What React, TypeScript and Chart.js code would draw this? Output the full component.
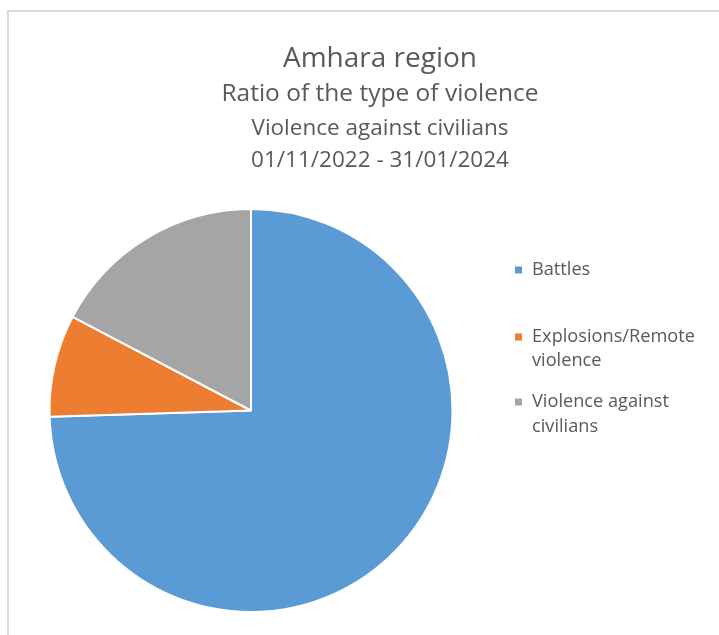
import React, { useEffect, useRef } from "react";
import { Chart, registerables } from "chart.js";

Chart.register(...registerables);

const titleLines = [
  "Amhara region",
  "Ratio of the type of violence",
  "Violence against civilians",
  "01/11/2022 - 31/01/2024",
];
const categories = ["Battles", "Explosions/Remote violence", "Violence against civilians"];
const legendLines = [["Battles"], ["Explosions/Remote", "violence"], ["Violence against", "civilians"]];
const shares = [74.5, 8.2, 17.3];
const colors = ["#5B9BD5", "#ED7D31", "#A5A5A5"];

const FONT = "'Open Sans', 'Noto Sans', sans-serif";
const TEXT = "#595959";

const decor = {
  id: "decor",
  afterDraw(chart: any) {
    const ctx = chart.ctx;
    ctx.save();
    ctx.fillStyle = TEXT;
    ctx.textAlign = "center";
    ctx.textBaseline = "alphabetic";
    const titleSpec = [
      { size: 28, y: 67 },
      { size: 24.5, y: 101 },
      { size: 22.5, y: 135 },
      { size: 22.5, y: 167 },
    ];
    titleLines.forEach((t, i) => {
      ctx.font = `${titleSpec[i].size}px ${FONT}`;
      ctx.fillText(t, 380, titleSpec[i].y);
    });
    // legend
    const itemY = [[270], [337, 361], [402, 427]];
    ctx.textAlign = "left";
    ctx.textBaseline = "middle";
    ctx.font = `18.2px ${FONT}`;
    legendLines.forEach((lines, i) => {
      ctx.fillStyle = colors[i];
      ctx.fillRect(515, itemY[i][0] - 3.5, 7, 7);
      ctx.fillStyle = TEXT;
      lines.forEach((l, j) => ctx.fillText(l, 532, itemY[i][j]));
    });
    ctx.restore();
  },
};

export default function App() {
  const ref = useRef<HTMLCanvasElement | null>(null);
  useEffect(() => {
    if (!ref.current) return;
    const chart = new Chart(ref.current, {
      type: "pie",
      data: {
        labels: categories,
        datasets: [
          {
            data: shares,
            backgroundColor: colors,
            borderColor: "#ffffff",
            borderWidth: 2,
          },
        ],
      },
      options: {
        animation: false,
        responsive: false,
        layout: { padding: { left: 48, right: 265, top: 208, bottom: 22 } },
        plugins: {
          legend: { display: false },
          title: { display: false },
          tooltip: { enabled: false },
        },
      },
      plugins: [decor],
    });
    return () => chart.destroy();
  }, []);
  return (
    <div style={{ position: "fixed", left: 0, top: 0, width: 719, height: 635, background: "#fff", overflow: "hidden" }}>
      <div
        style={{
          position: "absolute",
          left: 7,
          top: 10,
          width: 760,
          height: 700,
          border: "2px solid #d9d9d9",
          boxSizing: "border-box",
        }}
      />
      <canvas ref={ref} width={719} height={635} style={{ position: "absolute", left: 0, top: 0 }} />
    </div>
  );
}
